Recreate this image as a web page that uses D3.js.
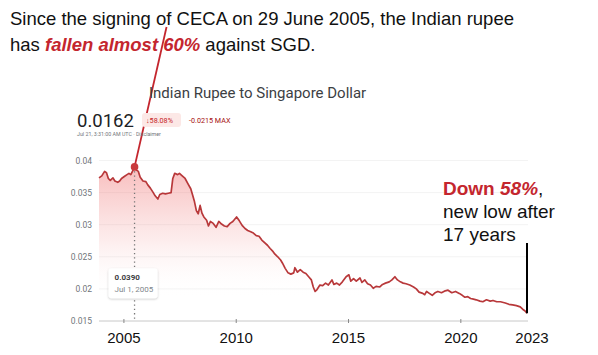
<!DOCTYPE html>
<html><head><meta charset="utf-8">
<script src="https://cdn.jsdelivr.net/npm/d3@7"></script>
<style>
html,body{margin:0;padding:0;background:#fff;}
svg{display:block;}
</style></head>
<body>
<svg id="chart" width="598" height="355"></svg>
<script>
// ---------- DATA ----------
const dates = [
"2003-12-01","2004-01-15","2004-03-01","2004-04-01","2004-05-01","2004-06-01","2004-07-15","2004-08-15","2004-10-01","2004-11-01","2004-12-01",
"2005-01-15","2005-03-01","2005-04-01","2005-05-01","2005-06-01","2005-07-01","2005-08-01","2005-09-01","2005-10-01","2005-11-15",
"2006-01-01","2006-02-01","2006-03-15","2006-05-01","2006-06-01","2006-07-15","2006-08-15","2006-10-01","2006-11-15",
"2007-01-01","2007-02-15","2007-03-15","2007-04-15","2007-06-01","2007-07-01","2007-08-15","2007-10-01","2007-11-15",
"2008-01-01","2008-02-01","2008-03-01","2008-04-01","2008-05-01","2008-06-01","2008-07-01","2008-08-01","2008-09-15","2008-10-15","2008-11-15",
"2009-01-01","2009-02-15","2009-04-01","2009-05-15","2009-07-01","2009-08-15","2009-10-01","2009-11-15",
"2010-01-15","2010-03-01","2010-04-15","2010-06-01","2010-07-15","2010-09-01","2010-10-15","2010-12-01",
"2011-01-15","2011-03-01","2011-04-15","2011-06-01","2011-07-15","2011-09-01","2011-10-01","2011-11-15",
"2012-01-01","2012-02-01","2012-03-15","2012-05-01","2012-06-15","2012-08-01","2012-08-20","2012-10-01","2012-11-15",
"2013-01-01","2013-02-15","2013-04-01","2013-05-15","2013-06-15","2013-07-15","2013-08-15","2013-10-01","2013-11-15",
"2014-01-01","2014-02-15","2014-04-15","2014-05-15","2014-07-01","2014-08-15","2014-10-01","2014-12-01",
"2015-01-15","2015-02-15","2015-04-01","2015-05-15","2015-07-15","2015-08-15","2015-10-01","2015-11-15",
"2016-01-01","2016-02-15","2016-04-01","2016-06-01","2016-07-15","2016-09-01","2016-11-01","2016-12-15",
"2017-02-01","2017-03-15","2017-05-01","2017-06-15","2017-08-01","2017-10-01","2017-12-01",
"2018-01-15","2018-03-01","2018-05-01","2018-06-01","2018-07-01","2018-08-15","2018-10-01","2018-11-15",
"2019-01-01","2019-03-01","2019-05-01","2019-06-15","2019-08-15","2019-10-15","2019-12-15",
"2020-02-01","2020-03-15","2020-05-01","2020-06-15","2020-08-01","2020-09-15","2020-11-15",
"2021-01-01","2021-03-01","2021-05-01","2021-06-15","2021-08-15","2021-10-15",
"2022-01-01","2022-03-01","2022-05-01","2022-07-01","2022-09-01","2022-10-15","2022-11-15","2022-12-20"
];
const values = [
0.0373,0.0376,0.0383,0.0381,0.0372,0.0369,0.0373,0.0368,0.0366,0.0368,0.0372,
0.0375,0.0378,0.0380,0.0378,0.0384,0.0390,0.0385,0.0383,0.0374,0.0368,
0.0367,0.0362,0.0357,0.0350,0.0345,0.0340,0.0347,0.0349,0.0348,
0.0349,0.0350,0.0372,0.0380,0.0378,0.0380,0.0376,0.0372,0.0364,
0.0356,0.0346,0.0336,0.0322,0.0317,0.0330,0.0318,0.0312,0.0307,0.0298,0.0305,
0.0302,0.0296,0.0305,0.0301,0.0298,0.0297,0.0302,0.0305,
0.0312,0.0306,0.0299,0.0294,0.0291,0.0289,0.0287,0.0283,
0.0282,0.0276,0.0272,0.0268,0.0263,0.0258,0.0254,0.0250,
0.0245,0.0240,0.0232,0.0225,0.0223,0.0225,0.0233,0.0226,0.0230,
0.0226,0.0224,0.0219,0.0214,0.0203,0.0196,0.0199,0.0206,0.0205,
0.0209,0.0206,0.0214,0.0207,0.0209,0.0206,0.0211,0.0219,
0.0222,0.0212,0.0216,0.0212,0.0217,0.0210,0.0214,0.0208,
0.0206,0.0201,0.0204,0.0203,0.0207,0.0209,0.0211,0.0214,
0.0219,0.0214,0.0211,0.0209,0.0208,0.0206,0.0203,
0.0200,0.0195,0.0193,0.0191,0.0196,0.0193,0.0190,0.0194,
0.0196,0.0194,0.0197,0.0198,0.0194,0.0196,0.0193,
0.0190,0.0187,0.0188,0.0185,0.0184,0.0183,0.0181,
0.0180,0.0183,0.0181,0.0182,0.0180,0.0180,
0.0178,0.0176,0.0175,0.0174,0.0172,0.0168,0.0166,0.0162
];
const yTicks = [0.015, 0.02, 0.025, 0.03, 0.035, 0.04];
const yTickLabels = ["0.015","0.02","0.025","0.03","0.035","0.04"];
const xTickDates = ["2005-01-01","2010-01-01","2015-01-01","2020-01-01"];
const xTickLabels = ["2005","2010","2015","2020"];
const endLabel = "2023";
const highlightDate = "2005-07-01";
const highlightValue = 0.0390;
const currentValue = "0.0162";

// ---------- SETUP ----------
const parse = d3.timeParse("%Y-%m-%d");
const data = dates.map((d,i)=>({date:parse(d), value:values[i]}));
const svg = d3.select("#chart");
const FONT = "Arial, 'Liberation Sans', sans-serif";
const GFONT = "Roboto, Arial, sans-serif";
const RED = "#c4262e";

const x = d3.scaleTime().domain(d3.extent(data, d=>d.date)).range([99, 527]);
const y = d3.scaleLinear().domain([0.015, 0.04]).range([321, 160.5]);

// gradient
const defs = svg.append("defs");
const grad = defs.append("linearGradient").attr("id","fillGrad")
  .attr("gradientUnits","userSpaceOnUse").attr("x1",0).attr("x2",0)
  .attr("y1", y(0.039)).attr("y2", y(0.0185));
grad.append("stop").attr("offset","0%").attr("stop-color","#ee5a5a").attr("stop-opacity",0.40);
grad.append("stop").attr("offset","55%").attr("stop-color","#f08080").attr("stop-opacity",0.15);
grad.append("stop").attr("offset","100%").attr("stop-color","#ffffff").attr("stop-opacity",0);
const shadow = defs.append("filter").attr("id","shadow").attr("x","-20%").attr("y","-20%").attr("width","140%").attr("height","150%");
shadow.append("feDropShadow").attr("dx",0).attr("dy",1).attr("stdDeviation",1.2).attr("flood-color","#000").attr("flood-opacity",0.22);

// gridlines
svg.append("g").selectAll("line").data(yTicks.slice(1)).join("line")
  .attr("x1", 99).attr("x2", 528).attr("y1", d=>y(d)).attr("y2", d=>y(d))
  .attr("stroke","#f3f3f3").attr("stroke-width",1);

// y labels
svg.append("g").selectAll("text").data(yTicks).join("text")
  .attr("x", 92).attr("y", d=>y(d)+3)
  .attr("text-anchor","end").attr("font-family",GFONT).attr("font-size",8.5)
  .attr("fill","#70757a").text((d,i)=>yTickLabels[i]);

// area + line
svg.append("path").datum(data)
  .attr("d", d3.area().x(d=>x(d.date)).y0(y(0.015)).y1(d=>y(d.value)))
  .attr("fill","url(#fillGrad)");
svg.append("path").datum(data)
  .attr("d", d3.line().x(d=>x(d.date)).y(d=>y(d.value)))
  .attr("fill","none").attr("stroke","#b8383a").attr("stroke-width",1.7).attr("stroke-linejoin","round");

// x axis
const xAxis = d3.axisBottom(x).tickValues(xTickDates.map(parse)).tickSize(3)
  .tickFormat((d,i)=>xTickLabels[i]);
const gx = svg.append("g").attr("transform",`translate(0,${y(0.015)})`).call(xAxis);
gx.select(".domain").attr("d", `M99,0H528`).attr("stroke","#c8c8c8");
gx.selectAll(".tick line").attr("stroke","#888").attr("y1",-2).attr("y2",2);
gx.selectAll(".tick text").attr("font-family",FONT).attr("font-size",15).attr("fill","#111").attr("dy",0).attr("y",22);
const lastD = data[data.length-1];
svg.append("text").attr("x", x(lastD.date)+5).attr("y", 343)
  .attr("text-anchor","middle").attr("font-family",FONT).attr("font-size",15).attr("fill","#111").text(endLabel);

// highlight dotted line
const hx = x(parse(highlightDate)), hy = y(highlightValue);
svg.append("line").attr("x1",hx).attr("x2",hx).attr("y1",hy).attr("y2",y(0.015))
  .attr("stroke","#777").attr("stroke-width",1.3).attr("stroke-dasharray","1.3,3");

// tooltip
const tip = svg.append("g").attr("transform",`translate(${hx-26},${y(0.0232)})`);
tip.append("rect").attr("width",49).attr("height",30).attr("rx",3)
  .attr("fill","#fff").attr("filter","url(#shadow)");
tip.append("text").attr("x",6).attr("y",12).attr("font-family",GFONT).attr("font-size",8).attr("font-weight","bold").attr("fill","#3c4043").text(highlightValue.toFixed(4));
tip.append("text").attr("x",6).attr("y",24).attr("font-family",GFONT).attr("font-size",8).attr("fill","#80868b").text("Jul 1, 2005");

// red pointer line and dot
svg.append("line").attr("x1",hx).attr("y1",hy).attr("x2",hx+32).attr("y2",27)
  .attr("stroke",RED).attr("stroke-width",1.8);
svg.append("circle").attr("cx",hx).attr("cy",hy).attr("r",3.8).attr("fill","#c93a3d");

// end vertical line
svg.append("line").attr("x1",x(lastD.date)).attr("x2",x(lastD.date))
  .attr("y1",243).attr("y2",y(lastD.value))
  .attr("stroke","#000").attr("stroke-width",2);

// header: Google card
svg.append("text").attr("x",149).attr("y",98).attr("font-family",GFONT).attr("font-size",15).attr("fill","#3c4043")
  .text("Indian Rupee to Singapore Dollar");
svg.append("text").attr("x",77).attr("y",127).attr("font-family",GFONT).attr("font-size",18.5).attr("fill","#202124")
  .text(currentValue);
svg.append("rect").attr("x",142).attr("y",113).attr("width",39).attr("height",14).attr("rx",3).attr("fill","#fce8e6");
svg.append("text").attr("x",146).attr("y",123).attr("font-family",GFONT).attr("font-size",7.2).attr("fill","#c5221f")
  .text("↓58.08%");
svg.append("text").attr("x",189).attr("y",123).attr("font-family",GFONT).attr("font-size",7.2).attr("fill","#a50e0e")
  .text("-0.0215 MAX");
svg.append("text").attr("x",77).attr("y",136).attr("font-family",GFONT).attr("font-size",5.3).attr("fill","#70757a")
  .text("Jul 21, 3:31:00 AM UTC · Disclaimer");

// title
const TSIZE = 18.5;
const t1 = svg.append("text").attr("x",10).attr("y",25).attr("font-family",FONT).attr("font-size",TSIZE).attr("fill","#111");
t1.text("Since the signing of CECA on 29 June 2005, the Indian rupee");
const t2 = svg.append("text").attr("x",10).attr("y",51).attr("font-family",FONT).attr("font-size",TSIZE).attr("fill","#111");
t2.append("tspan").text("has ");
t2.append("tspan").attr("font-weight","bold").attr("font-style","italic").attr("fill",RED).text("fallen almost 60%");
t2.append("tspan").text(" against SGD.");

// right annotation
const a1 = svg.append("text").attr("x",443).attr("y",195).attr("font-family",FONT).attr("font-size",19);
a1.append("tspan").attr("font-weight","bold").attr("fill",RED).text("Down ");
a1.append("tspan").attr("font-weight","bold").attr("font-style","italic").attr("fill",RED).text("58%");
a1.append("tspan").attr("fill","#111").text(",");
svg.append("text").attr("x",443).attr("y",218).attr("font-family",FONT).attr("font-size",19).attr("fill","#111").text("new low after");
svg.append("text").attr("x",443).attr("y",241).attr("font-family",FONT).attr("font-size",19).attr("fill","#111").text("17 years");
</script>
</body></html>
